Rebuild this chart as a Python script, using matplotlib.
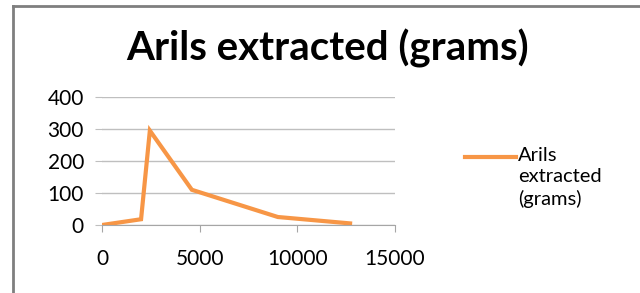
import matplotlib.pyplot as plt
from matplotlib.lines import Line2D

# values
seeds = [0, 2000, 2450, 4600, 9000, 12700]
arils_grams = [0, 18, 295, 110, 25, 5]
y_ticks = [0, 100, 200, 300, 400]
x_ticks = [0, 5000, 10000, 15000]
series_name = 'Arils\nextracted\n(grams)'

plt.rcParams['font.family'] = ['Lato', 'DejaVu Sans']

fig = plt.figure(figsize=(6.4, 2.93), dpi=100)
W, H = 640, 293
ax = fig.add_axes([102 / W, 1 - 225 / H, 293 / W, 128 / H])

ax.plot(seeds, arils_grams, color='#F79646', lw=3, solid_joinstyle='miter')
ax.set_xlim(0, 15000)
ax.set_ylim(0, 400)
ax.set_xticks(x_ticks)
ax.set_yticks(y_ticks)
ax.grid(axis='y', color='#BFBFBF', lw=1)
ax.set_axisbelow(True)
for s in ['top', 'right', 'left']:
    ax.spines[s].set_visible(False)
ax.spines['bottom'].set_color('#A6A6A6')
ax.tick_params(axis='y', length=5, color='#BFBFBF', labelsize=15, pad=8)
ax.tick_params(axis='x', length=5, color='#A6A6A6', labelsize=15, pad=12)

fig.text(328 / W, 1 - 48 / H, 'Arils extracted (grams)', ha='center', va='center',
         fontsize=29, fontweight='bold')

# legend: line key next to the first line of the wrapped label
fig.add_artist(Line2D([465 / W, 516 / W], [1 - 157 / H, 1 - 157 / H],
                      color='#F79646', lw=3))
fig.text(518 / W, 1 - 147 / H, series_name, ha='left', va='top',
         fontsize=14.5, linespacing=1.3)

# chart frame edges
fig.add_artist(Line2D([13 / W, 13 / W], [0, 1 - 6 / H], color='#7F7F7F', lw=2))
fig.add_artist(Line2D([13 / W, 1], [1 - 6 / H, 1 - 6 / H], color='#7F7F7F', lw=2))

fig.savefig('out.png', dpi=100)
